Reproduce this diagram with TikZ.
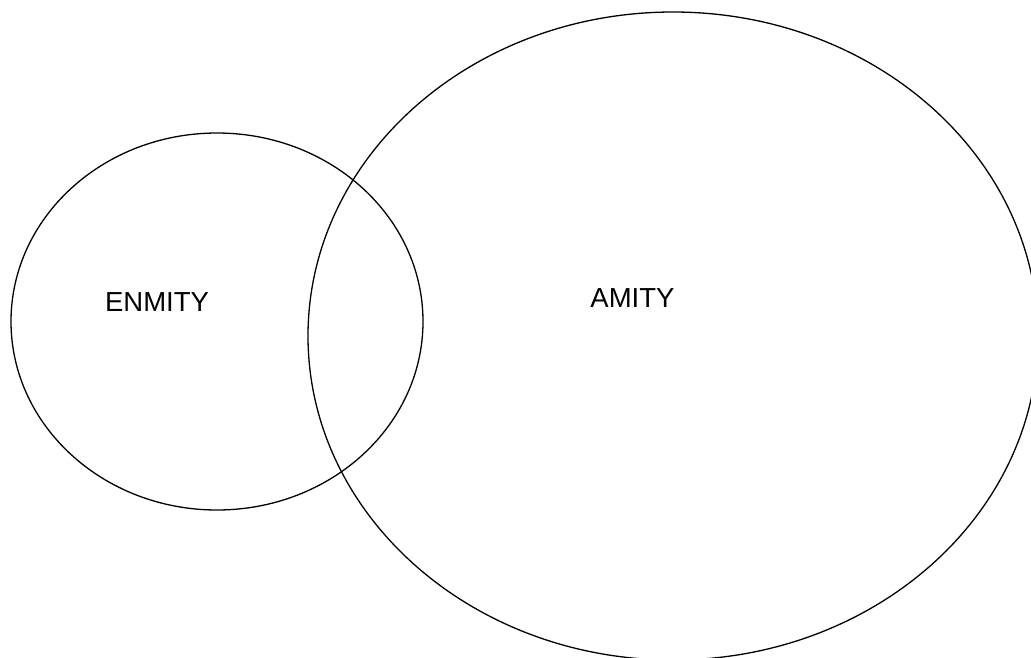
\documentclass[tikz,border=0pt]{standalone}
\usepackage{fontspec}
\setmainfont{Liberation Sans}
\begin{document}
\begin{tikzpicture}[x=1pt,y=-1pt,
  setshape/.style={draw=black,line width=1.3pt},
  lbl/.style={font=\fontsize{27.5}{30}\selectfont,inner sep=0pt,anchor=base}]
\useasboundingbox (0,0) rectangle (1031,657);
\clip (0,0) rectangle (1031,657);
\fill[white] (0,0) rectangle (1031,657);
\draw[setshape] (217,321.5) ellipse [x radius=206, y radius=188.5];
\draw[setshape] (673,336) ellipse [x radius=365, y radius=324];
\node[lbl] (enmity) at (157,311) {ENMITY};
\node[lbl] (amity) at (632.5,307) {AMITY};
\end{tikzpicture}
\end{document}
